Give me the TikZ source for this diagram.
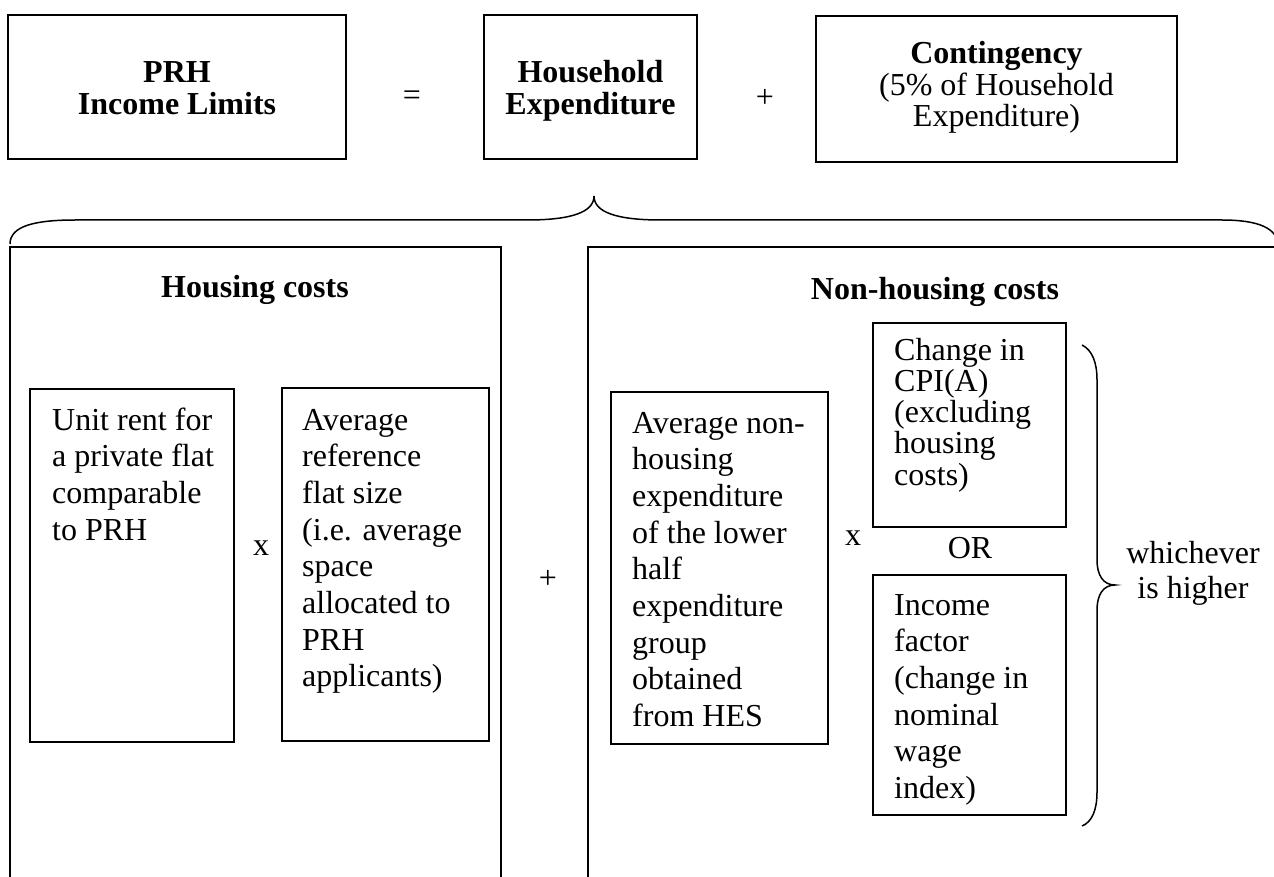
\documentclass[tikz,border=0pt]{standalone}
\usepackage{fontspec}
\setmainfont{Liberation Serif}
\newcommand\bodyfs{\fontsize{32}{36.7}\selectfont}
\newcommand\tightfs{\fontsize{32}{31.3}\selectfont}
\begin{document}
\begin{tikzpicture}[x=1pt,y=-1pt,
  frame/.style={draw, line width=1.6pt, inner sep=0pt, outer sep=0pt},
  txt/.style={inner sep=0pt, anchor=base west, font=\bodyfs},
  ctxt/.style={inner sep=0pt, anchor=base, font=\bodyfs},
  op/.style={inner sep=0pt, font=\bodyfs},
  brace/.style={line width=1.5pt}]

\useasboundingbox (0,0) rectangle (1274,877);
\clip (0,0) rectangle (1274,877);

% top row
\node[frame, minimum width=338pt, minimum height=144pt] (prh) at (177,87) {};
\node[ctxt] (prhT) at (177,83) {\parbox[t]{330pt}{\centering\tightfs\bfseries PRH\\Income Limits}};
\node[op] (eq) at (412,98) {=};
\node[frame, minimum width=213pt, minimum height=144pt] (hh) at (590.5,87) {};
\node[ctxt] (hhT) at (590.5,83) {\parbox[t]{210pt}{\centering\tightfs\bfseries Household\\Expenditure}};
\node[op] (plus1) at (765,98) {+};
\node[frame, minimum width=361pt, minimum height=146pt] (cont) at (996.5,89) {};
\node[ctxt] (contT) at (996.5,64) {\parbox[t]{355pt}{\centering\tightfs\textbf{Contingency}\\(5\% of Household\\Expenditure)}};

% top brace
\coordinate (bL) at (10,244);
\coordinate (bTip) at (594,196);
\coordinate (bR) at (1278,246);
\draw[brace] (bL) .. controls (10,226) and (35,220) .. (75,220) -- (527,220)
  .. controls (572,220) and (594,212) .. (bTip)
  .. controls (594,212) and (616,220) .. (661,220) -- (1222,220)
  .. controls (1258,220) and (1278,228) .. (bR);

% big boxes
\node[frame, line width=1.5pt, minimum width=491pt, minimum height=700pt, anchor=north west] (hc) at (10,247) {};
\node[frame, line width=1.5pt, minimum width=720pt, minimum height=700pt, anchor=north west] (nhc) at (588,247) {};
\node[ctxt, font=\bodyfs\bfseries] (hcT) at (255,298) {Housing costs};
\node[ctxt, font=\bodyfs\bfseries] (nhcT) at (935,299) {Non-housing costs};

% housing costs
\node[frame, minimum width=204pt, minimum height=353pt, anchor=north west] (rent) at (30,389) {};
\node[txt] (rentT) at (52,430) {\parbox[t]{200pt}{\raggedright Unit rent for\\a private flat\\comparable\\to PRH}};
\node[op] (x1) at (261,548) {x};
\node[frame, minimum width=207pt, minimum height=353pt, anchor=north west] (size) at (282,388) {};
\node[txt] (sizeT) at (302,430) {\parbox[t]{200pt}{\raggedright Average\\reference\\flat size\\(i.e. average\\space\\allocated to\\PRH\\applicants)}};

\node[op] (plus2) at (548,579) {+};

% non-housing costs
\node[frame, minimum width=217pt, minimum height=352pt, anchor=north west] (nonh) at (611,392) {};
\node[txt] (nonhT) at (632,433) {\parbox[t]{200pt}{\raggedright Average non-\\housing\\expenditure\\of the lower\\half\\expenditure\\group\\obtained\\from HES}};
\node[op] (x2) at (853,538) {x};
\node[frame, minimum width=193pt, minimum height=204pt, anchor=north west] (cpi) at (873,323) {};
\node[txt] (cpiT) at (894,360) {\parbox[t]{180pt}{\raggedright\tightfs Change in\\CPI(A)\\(excluding\\housing\\costs)}};
\node[op] (or) at (970,548) {OR};
\node[frame, minimum width=193pt, minimum height=240pt, anchor=north west] (inc) at (873,575) {};
\node[txt] (incT) at (894,615) {\parbox[t]{180pt}{\raggedright Income\\factor\\(change in\\nominal\\wage\\index)}};

% right brace
\coordinate (rbT) at (1082,345);
\coordinate (rbTip) at (1115,585);
\coordinate (rbB) at (1082,826);
\draw[brace] (rbT) .. controls (1092,350) and (1097,362) .. (1097,380) -- (1097,560)
  .. controls (1097,575) and (1103,585) .. (rbTip)
  .. controls (1103,585) and (1097,595) .. (1097,610) -- (1097,792)
  .. controls (1097,810) and (1092,822) .. (rbB);
\node[ctxt] (which) at (1193,563) {\parbox[t]{160pt}{\centering\fontsize{32}{35}\selectfont whichever\\is higher}};

\end{tikzpicture}
\end{document}
